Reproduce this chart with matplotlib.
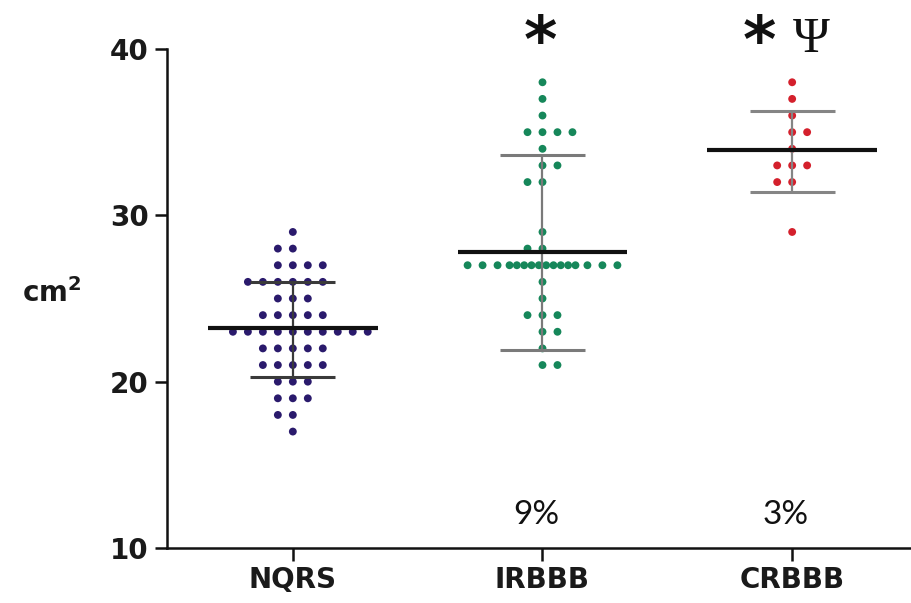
import numpy as np
import matplotlib
matplotlib.use("Agg")
import matplotlib.pyplot as plt

# ---------------- data ----------------
categories = ['NQRS', 'IRBBB', 'CRBBB']

nqrs_levels = [29, 28, 27, 26, 25, 24, 23, 22, 21, 20, 19, 18, 17]
nqrs_counts = [1, 2, 4, 6, 3, 5, 10, 5, 5, 3, 3, 2, 1]

irbbb_levels = [38, 37, 36, 35, 34, 33, 32, 29, 28, 27, 26, 25, 24, 23, 22, 21]
irbbb_counts = [1, 1, 1, 4, 1, 2, 2, 1, 2, 16, 1, 1, 3, 2, 1, 2]

crbbb_levels = [38, 37, 36, 35, 34, 33, 32, 29]
crbbb_counts = [1, 1, 1, 2, 1, 3, 2, 1]

means = [23.2, 27.8, 33.9]
sd_low = [20.3, 21.9, 31.4]
sd_high = [26.0, 33.6, 36.3]

sig_star = ['', '*', '*']
sig_extra = ['', '', 'Ψ']
pct_labels = ['', '9%', '3%']

y_ticks = [10, 20, 30, 40]

# ---------------- style / layout ----------------
dot_colors = ['#2a1a6c', '#16875a', '#d4202c']
sd_colors = ['#3a3a3a', '#7a7a7a', '#858585']
lean_left = [{28, 26, 18}, {32, 28}, {32}]
step = 0.06          # horizontal spacing between neighbouring dots (data units)
mean_half = 0.34
sd_half = 0.17

groups = [(nqrs_levels, nqrs_counts), (irbbb_levels, irbbb_counts),
          (crbbb_levels, crbbb_counts)]


def row_offsets(n, left):
    if n > 11:
        outer = [-5, -4, -3, 3, 4, 5]
        inner = list(np.linspace(-2.2, 2.2, n - 6))
        return np.array(outer + inner)
    if left and n % 2 == 0:
        return np.arange(n) - n // 2
    return np.arange(n) - (n - 1) // 2


fig = plt.figure(figsize=(9.12, 6.03), dpi=100)
ax = fig.add_axes([167 / 912, 55 / 603, 1 - 167 / 912, (548 - 49) / 603])

for i, (levels, counts) in enumerate(groups):
    xs, ys = [], []
    for lv, c in zip(levels, counts):
        offs = row_offsets(c, lv in lean_left[i])
        xs.extend(i + offs * step)
        ys.extend([lv] * c)
    ax.scatter(xs, ys, s=32, color=dot_colors[i], edgecolors='none', zorder=2,
               clip_on=False)
    # error bar
    ax.plot([i, i], [sd_low[i], sd_high[i]], color=sd_colors[i], lw=1.6, zorder=3,
            solid_capstyle='butt')
    ax.plot([i - sd_half, i + sd_half], [sd_low[i]] * 2, color=sd_colors[i], lw=2.2,
            zorder=3, solid_capstyle='butt')
    ax.plot([i - sd_half, i + sd_half], [sd_high[i]] * 2, color=sd_colors[i], lw=2.2,
            zorder=3, solid_capstyle='butt')
    ax.plot([i - mean_half, i + mean_half], [means[i]] * 2, color='#111111', lw=3.0,
            zorder=4, solid_capstyle='butt')

ax.set_xlim(-0.504, 2.48)
ax.set_ylim(10, 40)
ax.set_xticks(range(len(categories)))
ax.set_xticklabels(categories)
ax.set_yticks(y_ticks)
ax.set_yticklabels([str(t) for t in y_ticks])

for side in ['top', 'right']:
    ax.spines[side].set_visible(False)
for side in ['left', 'bottom']:
    ax.spines[side].set_linewidth(1.8)
    ax.spines[side].set_color('#111111')

ax.tick_params(axis='both', length=9, width=1.8, color='#111111', direction='out')
ax.tick_params(axis='y', pad=4)
ax.tick_params(axis='x', pad=4)
for lab in ax.get_xticklabels() + ax.get_yticklabels():
    lab.set_fontfamily('DejaVu Sans')
    lab.set_fontweight('bold')
    lab.set_fontsize(20)
    lab.set_color('#1a1a1a')

# y-axis label (horizontal)
fig.text(22 / 912, 1 - 302 / 603, r'$\mathbf{cm^2}$', fontsize=20, color='#1a1a1a',
         ha='left', va='baseline')

# significance marks
for i in range(len(categories)):
    if sig_star[i]:
        dx = -0.01 if not sig_extra[i] else -0.13
        ax.text(i + dx, 1.011, sig_star[i], transform=ax.get_xaxis_transform(),
                fontsize=46, fontweight='bold', family='DejaVu Sans', ha='center',
                va='center', color='#111111', clip_on=False)
    if sig_extra[i]:
        ax.text(i + 0.076, 40.55, sig_extra[i], fontsize=36, family='Liberation Serif',
                ha='center', va='center', color='#111111', clip_on=False)
    if pct_labels[i]:
        ax.text(i - 0.025, 12.0, pct_labels[i], fontsize=24, family='Lato',
                ha='center', va='center', color='#111111')

fig.savefig('out.png', dpi=100)
